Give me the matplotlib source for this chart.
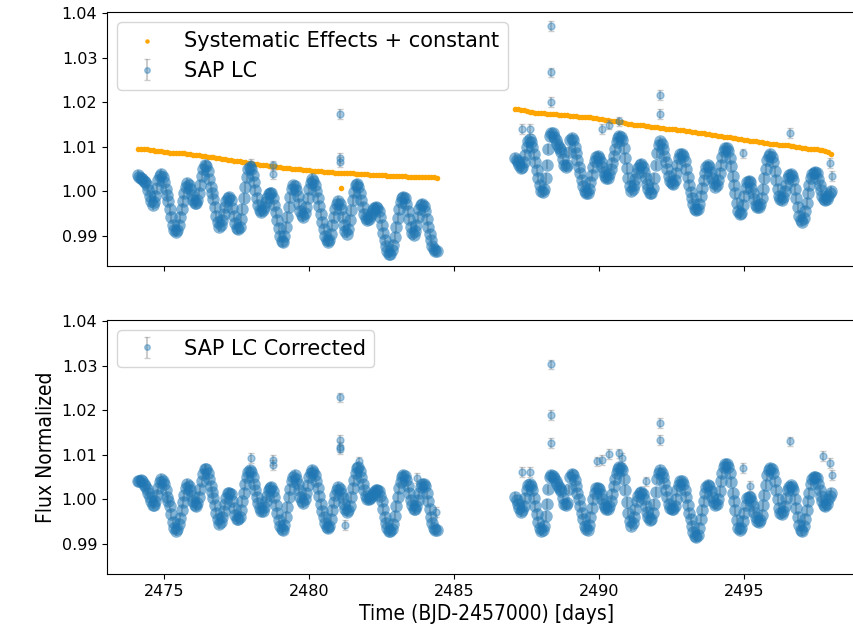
import numpy as np
import matplotlib.pyplot as plt

# time stamps (BJD-2457000) of the light curve, first and second orbit
tb1 = [2474.10, 2474.15, 2474.20, 2474.25, 2474.30, 2474.35, 2474.40, 2474.45, 2474.50,
       2474.55, 2474.60, 2474.65, 2474.70, 2474.75, 2474.80, 2474.85, 2474.90, 2474.95,
       2475.00, 2475.05, 2475.10, 2475.15, 2475.20, 2475.25, 2475.30, 2475.35, 2475.40, 2475.45,
       2475.50, 2475.55, 2475.60, 2475.65, 2475.70, 2475.75, 2475.80, 2475.85, 2475.90, 2475.95,
       2476.00, 2476.05, 2476.10, 2476.15, 2476.20, 2476.25, 2476.30, 2476.35, 2476.40, 2476.45,
       2476.50, 2476.55, 2476.60, 2476.65, 2476.70, 2476.75, 2476.80, 2476.85, 2476.90, 2476.95,
       2477.00, 2477.05, 2477.10, 2477.15, 2477.20, 2477.25, 2477.30, 2477.35, 2477.40, 2477.45,
       2477.50, 2477.55, 2477.60, 2477.65, 2477.70, 2477.75, 2477.80, 2477.85, 2477.90, 2477.95,
       2478.00, 2478.05, 2478.10, 2478.15, 2478.20, 2478.25, 2478.30, 2478.35, 2478.40, 2478.45,
       2478.50, 2478.55, 2478.60, 2478.65, 2478.70, 2478.75, 2478.80, 2478.85, 2478.90, 2478.95,
       2479.00, 2479.05, 2479.10, 2479.15, 2479.20, 2479.25, 2479.30, 2479.35, 2479.40, 2479.45,
       2479.50, 2479.55, 2479.60, 2479.65, 2479.70, 2479.75, 2479.80, 2479.85, 2479.90, 2479.95,
       2480.00, 2480.05, 2480.10, 2480.15, 2480.20, 2480.25, 2480.30, 2480.35, 2480.40, 2480.45,
       2480.50, 2480.55, 2480.60, 2480.65, 2480.70, 2480.75, 2480.80, 2480.85, 2480.90, 2480.95,
       2481.00, 2481.05, 2481.10, 2481.15, 2481.20, 2481.25, 2481.30, 2481.35, 2481.40, 2481.45,
       2481.50, 2481.55, 2481.60, 2481.65, 2481.70, 2481.75, 2481.80, 2481.85, 2481.90, 2481.95,
       2482.00, 2482.05, 2482.10, 2482.15, 2482.20, 2482.25, 2482.30, 2482.35, 2482.40, 2482.45,
       2482.50, 2482.55, 2482.60, 2482.65, 2482.70, 2482.75, 2482.80, 2482.85, 2482.90, 2482.95,
       2483.00, 2483.05, 2483.10, 2483.15, 2483.20, 2483.25, 2483.30, 2483.35, 2483.40, 2483.45,
       2483.50, 2483.55, 2483.60, 2483.65, 2483.70, 2483.75, 2483.80, 2483.85, 2483.90, 2483.95,
       2484.00, 2484.05, 2484.10, 2484.15, 2484.20, 2484.25, 2484.30, 2484.35, 2484.40]
tb2 = [2487.10, 2487.15, 2487.20, 2487.25, 2487.30, 2487.35, 2487.40, 2487.45, 2487.50,
       2487.55, 2487.60, 2487.65, 2487.70, 2487.75, 2487.80, 2487.85, 2487.90, 2487.95,
       2488.00, 2488.05, 2488.10, 2488.15, 2488.20, 2488.25, 2488.30, 2488.35, 2488.40, 2488.45,
       2488.50, 2488.55, 2488.60, 2488.65, 2488.70, 2488.75, 2488.80, 2488.85, 2488.90, 2488.95,
       2489.00, 2489.05, 2489.10, 2489.15, 2489.20, 2489.25, 2489.30, 2489.35, 2489.40, 2489.45,
       2489.50, 2489.55, 2489.60, 2489.65, 2489.70, 2489.75, 2489.80, 2489.85, 2489.90, 2489.95,
       2490.00, 2490.05, 2490.10, 2490.15, 2490.20, 2490.25, 2490.30, 2490.35, 2490.40, 2490.45,
       2490.50, 2490.55, 2490.60, 2490.65, 2490.70, 2490.75, 2490.80, 2490.85, 2490.90, 2490.95,
       2491.00, 2491.05, 2491.10, 2491.15, 2491.20, 2491.25, 2491.30, 2491.35, 2491.40, 2491.45,
       2491.50, 2491.55, 2491.60, 2491.65, 2491.70, 2491.75, 2491.80, 2491.85, 2491.90, 2491.95,
       2492.00, 2492.05, 2492.10, 2492.15, 2492.20, 2492.25, 2492.30, 2492.35, 2492.40, 2492.45,
       2492.50, 2492.55, 2492.60, 2492.65, 2492.70, 2492.75, 2492.80, 2492.85, 2492.90, 2492.95,
       2493.00, 2493.05, 2493.10, 2493.15, 2493.20, 2493.25, 2493.30, 2493.35, 2493.40, 2493.45,
       2493.50, 2493.55, 2493.60, 2493.65, 2493.70, 2493.75, 2493.80, 2493.85, 2493.90, 2493.95,
       2494.00, 2494.05, 2494.10, 2494.15, 2494.20, 2494.25, 2494.30, 2494.35, 2494.40, 2494.45,
       2494.50, 2494.55, 2494.60, 2494.65, 2494.70, 2494.75, 2494.80, 2494.85, 2494.90, 2494.95,
       2495.00, 2495.05, 2495.10, 2495.15, 2495.20, 2495.25, 2495.30, 2495.35, 2495.40, 2495.45,
       2495.50, 2495.55, 2495.60, 2495.65, 2495.70, 2495.75, 2495.80, 2495.85, 2495.90, 2495.95,
       2496.00, 2496.05, 2496.10, 2496.15, 2496.20, 2496.25, 2496.30, 2496.35, 2496.40, 2496.45,
       2496.50, 2496.55, 2496.60, 2496.65, 2496.70, 2496.75, 2496.80, 2496.85, 2496.90, 2496.95,
       2497.00, 2497.05, 2497.10, 2497.15, 2497.20, 2497.25, 2497.30, 2497.35, 2497.40, 2497.45,
       2497.50, 2497.55, 2497.60, 2497.65, 2497.70, 2497.75, 2497.80, 2497.85, 2497.90, 2497.95,
       2498.00]

# SAP flux (top panel)
sap1 = [1.0036, 1.0033, 1.0030, 1.0027, 1.0024, 1.0020, 1.0014, 1.0003, 0.9990,
        0.9977, 0.9970, 0.9976, 0.9990, 1.0008, 1.0025, 1.0035, 1.0038, 1.0031,
        1.0020, 1.0006, 0.9992, 0.9977, 0.9960, 0.9942, 0.9925, 0.9913, 0.9908, 0.9913,
        0.9925, 0.9942, 0.9960, 0.9978, 0.9995, 1.0010, 1.0018, 1.0014, 1.0005, 0.9992,
        0.9980, 0.9974, 0.9973, 0.9981, 0.9995, 1.0015, 1.0035, 1.0051, 1.0060, 1.0056,
        1.0045, 1.0028, 1.0010, 0.9996, 0.9982, 0.9964, 0.9945, 0.9930, 0.9920, 0.9924,
        0.9935, 0.9950, 0.9965, 0.9977, 0.9985, 0.9986, 0.9980, 0.9963, 0.9945, 0.9929,
        0.9918, 0.9916, 0.9920, 0.9937, 0.9960, 0.9985, 1.0010, 1.0032, 1.0050, 1.0055,
        1.0050, 1.0036, 1.0020, 1.0002, 0.9985, 0.9970, 0.9958, 0.9954, 0.9957, 0.9965,
        0.9975, 0.9985, 0.9993, 0.9997, 0.9996, 0.9985, 0.9970, 0.9953, 0.9935, 0.9917,
        0.9900, 0.9889, 0.9886, 0.9900, 0.9920, 0.9942, 0.9965, 0.9986, 1.0005, 1.0013,
        1.0012, 1.0003, 0.9990, 0.9972, 0.9955, 0.9946, 0.9943, 0.9951, 0.9965, 0.9985,
        1.0005, 1.0019, 1.0027, 1.0024, 1.0015, 1.0001, 0.9985, 0.9968, 0.9950, 0.9932,
        0.9915, 0.9900, 0.9890, 0.9886, 0.9890, 0.9905, 0.9925, 0.9943, 0.9960, 0.9972,
        0.9978, 0.9972, 0.9960, 0.9942, 0.9925, 0.9911, 0.9905, 0.9915, 0.9935, 0.9957,
        0.9980, 0.9999, 1.0013, 1.0016, 1.0010, 0.9996, 0.9980, 0.9965, 0.9950, 0.9940,
        0.9935, 0.9938, 0.9945, 0.9952, 0.9958, 0.9962, 0.9964, 0.9962, 0.9955, 0.9942,
        0.9925, 0.9907, 0.9890, 0.9876, 0.9865, 0.9860, 0.9860, 0.9867, 0.9880, 0.9898,
        0.9920, 0.9940, 0.9960, 0.9975, 0.9985, 0.9988, 0.9985, 0.9972, 0.9955, 0.9937,
        0.9920, 0.9907, 0.9902, 0.9910, 0.9925, 0.9943, 0.9960, 0.9969, 0.9972, 0.9966,
        0.9955, 0.9938, 0.9920, 0.9905, 0.9890, 0.9878, 0.9870, 0.9866, 0.9865]
sap2 = [1.0075, 1.0070, 1.0065, 1.0058, 1.0052, 1.0055, 1.0065, 1.0082, 1.0100,
        1.0112, 1.0117, 1.0111, 1.0100, 1.0083, 1.0065, 1.0047, 1.0030, 1.0013,
        1.0000, 0.9998, 1.0005, 1.0030, 1.0060, 1.0095, 1.0125, 1.0131, 1.0130, 1.0123,
        1.0115, 1.0107, 1.0100, 1.0095, 1.0088, 1.0073, 1.0060, 1.0055, 1.0060, 1.0088,
        1.0115, 1.0120, 1.0115, 1.0100, 1.0085, 1.0070, 1.0055, 1.0040, 1.0025, 1.0011,
        1.0000, 0.9995, 0.9995, 1.0005, 1.0020, 1.0037, 1.0055, 1.0069, 1.0078, 1.0079,
        1.0075, 1.0065, 1.0055, 1.0044, 1.0035, 1.0030, 1.0030, 1.0038, 1.0050, 1.0064,
        1.0080, 1.0096, 1.0110, 1.0120, 1.0124, 1.0122, 1.0115, 1.0097, 1.0075, 1.0052,
        1.0030, 1.0012, 1.0000, 1.0004, 1.0015, 1.0027, 1.0040, 1.0052, 1.0060, 1.0061,
        1.0055, 1.0043, 1.0030, 1.0017, 1.0005, 0.9996, 0.9995, 1.0008, 1.0030, 1.0058,
        1.0085, 1.0104, 1.0112, 1.0106, 1.0095, 1.0080, 1.0065, 1.0050, 1.0035, 1.0024,
        1.0018, 1.0017, 1.0025, 1.0041, 1.0060, 1.0075, 1.0083, 1.0084, 1.0080, 1.0067,
        1.0050, 1.0032, 1.0015, 0.9999, 0.9985, 0.9971, 0.9960, 0.9957, 0.9960, 0.9972,
        0.9990, 1.0007, 1.0025, 1.0042, 1.0055, 1.0058, 1.0055, 1.0043, 1.0030, 1.0018,
        1.0010, 1.0014, 1.0025, 1.0042, 1.0060, 1.0077, 1.0090, 1.0097, 1.0098, 1.0090,
        1.0075, 1.0056, 1.0035, 1.0015, 0.9995, 0.9974, 0.9955, 0.9949, 0.9952, 0.9970,
        0.9990, 1.0007, 1.0020, 1.0023, 1.0020, 1.0008, 0.9995, 0.9982, 0.9970, 0.9965,
        0.9965, 0.9972, 0.9985, 1.0006, 1.0030, 1.0051, 1.0070, 1.0080, 1.0083, 1.0077,
        1.0065, 1.0046, 1.0025, 1.0006, 0.9990, 0.9982, 0.9980, 0.9987, 1.0000, 1.0015,
        1.0030, 1.0036, 1.0038, 1.0034, 1.0025, 1.0006, 0.9985, 0.9964, 0.9945, 0.9935,
        0.9932, 0.9941, 0.9955, 0.9974, 0.9995, 1.0013, 1.0030, 1.0039, 1.0042, 1.0043,
        1.0040, 1.0028, 1.0015, 1.0002, 0.9990, 0.9983, 0.9980, 0.9983, 0.9990, 0.9995,
        1.0000]
# isolated SAP points away from the band
t_out = [2481.07, 2481.07, 2481.07, 2477.98, 2478.76, 2478.76, 2488.33, 2488.33, 2488.33,
         2492.08, 2492.08, 2496.58, 2487.34, 2487.63, 2490.09, 2490.35, 2490.67, 2494.97,
         2497.97, 2498.03]
sap_out = [1.0174, 1.0075, 1.0065, 1.0061, 1.0058, 1.0039, 1.0372, 1.0267, 1.0200,
           1.0217, 1.0174, 1.0131, 1.0140, 1.0140, 1.0140, 1.0150, 1.0157, 1.0085,
           1.0064, 1.0035]

# corrected flux (bottom panel)
cor1 = [1.0040, 1.0042, 1.0043, 1.0040, 1.0035, 1.0029, 1.0022, 1.0014, 1.0005,
        0.9995, 0.9988, 0.9988, 0.9995, 1.0009, 1.0025, 1.0038, 1.0045, 1.0042,
        1.0035, 1.0020, 1.0005, 0.9996, 0.9985, 0.9967, 0.9950, 0.9936, 0.9928, 0.9934,
        0.9945, 0.9959, 0.9975, 0.9993, 1.0010, 1.0025, 1.0035, 1.0030, 1.0020, 1.0007,
        0.9995, 0.9988, 0.9985, 0.9992, 1.0005, 1.0022, 1.0040, 1.0057, 1.0068, 1.0067,
        1.0060, 1.0046, 1.0030, 1.0017, 1.0003, 0.9986, 0.9970, 0.9955, 0.9945, 0.9950,
        0.9960, 0.9974, 0.9990, 1.0003, 1.0013, 1.0015, 1.0012, 0.9997, 0.9980, 0.9965,
        0.9956, 0.9955, 0.9960, 0.9975, 0.9995, 1.0015, 1.0035, 1.0050, 1.0062, 1.0065,
        1.0062, 1.0050, 1.0035, 1.0020, 1.0005, 0.9991, 0.9980, 0.9974, 0.9973, 0.9982,
        0.9995, 1.0008, 1.0020, 1.0026, 1.0027, 1.0018, 1.0005, 0.9988, 0.9970, 0.9954,
        0.9940, 0.9933, 0.9932, 0.9943, 0.9960, 0.9982, 1.0005, 1.0024, 1.0040, 1.0050,
        1.0054, 1.0046, 1.0035, 1.0020, 1.0005, 0.9995, 0.9992, 1.0000, 1.0015, 1.0033,
        1.0050, 1.0060, 1.0065, 1.0062, 1.0055, 1.0041, 1.0025, 1.0008, 0.9990, 0.9974,
        0.9960, 0.9947, 0.9937, 0.9935, 0.9940, 0.9955, 0.9975, 0.9993, 1.0010, 1.0021,
        1.0027, 1.0023, 1.0015, 1.0002, 0.9990, 0.9979, 0.9972, 0.9975, 0.9985, 1.0004,
        1.0025, 1.0044, 1.0060, 1.0070, 1.0072, 1.0064, 1.0050, 1.0035, 1.0020, 1.0008,
        1.0000, 1.0000, 1.0003, 1.0007, 1.0012, 1.0017, 1.0020, 1.0020, 1.0018, 1.0008,
        0.9995, 0.9978, 0.9960, 0.9946, 0.9935, 0.9929, 0.9928, 0.9934, 0.9945, 0.9963,
        0.9985, 1.0005, 1.0025, 1.0039, 1.0050, 1.0054, 1.0053, 1.0043, 1.0030, 1.0014,
        0.9998, 0.9986, 0.9978, 0.9979, 0.9985, 0.9999, 1.0015, 1.0027, 1.0035, 1.0035,
        1.0030, 1.0014, 0.9995, 0.9977, 0.9960, 0.9946, 0.9935, 0.9931, 0.9930]
cor2 = [1.0005, 0.9998, 0.9990, 0.9980, 0.9972, 0.9975, 0.9985, 1.0002, 1.0020,
        1.0031, 1.0035, 1.0029, 1.0020, 1.0003, 0.9985, 0.9967, 0.9950, 0.9936,
        0.9928, 0.9930, 0.9940, 0.9962, 0.9990, 1.0022, 1.0050, 1.0054, 1.0053, 1.0047,
        1.0040, 1.0034, 1.0028, 1.0024, 1.0018, 1.0003, 0.9990, 0.9986, 0.9992, 1.0022,
        1.0050, 1.0057, 1.0055, 1.0043, 1.0030, 1.0015, 1.0000, 0.9985, 0.9970, 0.9955,
        0.9940, 0.9933, 0.9932, 0.9943, 0.9960, 0.9980, 1.0000, 1.0015, 1.0026, 1.0026,
        1.0022, 1.0011, 1.0000, 0.9990, 0.9982, 0.9978, 0.9977, 0.9984, 0.9995, 1.0012,
        1.0030, 1.0046, 1.0060, 1.0068, 1.0072, 1.0071, 1.0065, 1.0045, 1.0020, 0.9994,
        0.9970, 0.9952, 0.9940, 0.9947, 0.9960, 0.9977, 0.9995, 1.0007, 1.0015, 1.0016,
        1.0012, 1.0000, 0.9985, 0.9972, 0.9960, 0.9954, 0.9955, 0.9970, 0.9990, 1.0017,
        1.0045, 1.0059, 1.0065, 1.0060, 1.0050, 1.0036, 1.0020, 1.0005, 0.9990, 0.9981,
        0.9977, 0.9978, 0.9985, 1.0001, 1.0020, 1.0033, 1.0040, 1.0040, 1.0035, 1.0021,
        1.0005, 0.9987, 0.9970, 0.9955, 0.9940, 0.9927, 0.9918, 0.9916, 0.9920, 0.9935,
        0.9955, 0.9975, 0.9995, 1.0013, 1.0028, 1.0032, 1.0030, 1.0018, 1.0005, 0.9993,
        0.9986, 0.9990, 1.0000, 1.0019, 1.0040, 1.0058, 1.0072, 1.0079, 1.0080, 1.0072,
        1.0060, 1.0038, 1.0015, 0.9995, 0.9975, 0.9954, 0.9935, 0.9931, 0.9935, 0.9952,
        0.9970, 0.9988, 1.0003, 1.0006, 1.0004, 0.9995, 0.9985, 0.9972, 0.9960, 0.9952,
        0.9948, 0.9954, 0.9965, 0.9986, 1.0010, 1.0033, 1.0055, 1.0066, 1.0070, 1.0068,
        1.0060, 1.0040, 1.0020, 1.0000, 0.9980, 0.9970, 0.9966, 0.9973, 0.9985, 1.0003,
        1.0020, 1.0028, 1.0031, 1.0027, 1.0020, 1.0000, 0.9980, 0.9960, 0.9942, 0.9932,
        0.9928, 0.9939, 0.9955, 0.9975, 0.9995, 1.0015, 1.0035, 1.0045, 1.0050, 1.0051,
        1.0048, 1.0035, 1.0020, 1.0007, 0.9995, 0.9988, 0.9985, 0.9990, 1.0000, 1.0008,
        1.0015]
tc_out = [2481.07, 2481.07, 2481.07, 2481.07, 2481.24, 2477.98, 2478.76, 2478.76, 2481.71,
          2483.73, 2484.36, 2488.33, 2488.33, 2488.33, 2492.08, 2492.08, 2496.58, 2487.34,
          2487.63, 2489.94, 2490.09, 2490.35, 2490.67, 2490.79, 2491.62, 2494.97, 2495.20,
          2497.71, 2497.97, 2498.03]
cor_out = [1.0229, 1.0133, 1.0118, 1.0112, 0.9942, 1.0092, 1.0088, 1.0077, 1.0085,
           1.0047, 0.9972, 1.0303, 1.0190, 1.0127, 1.0171, 1.0133, 1.0130, 1.0062,
           1.0062, 1.0085, 1.0088, 1.0102, 1.0103, 1.0092, 1.0040, 1.0070, 1.0030,
           1.0097, 1.0082, 1.0055]
flux_err = 0.0011

# systematic effects + constant (orange), sampled every 0.1 d
ts1 = [2474.1, 2474.2, 2474.3, 2474.4, 2474.5, 2474.6, 2474.7, 2474.8, 2474.9,
       2475.0, 2475.1, 2475.2, 2475.3, 2475.4, 2475.5, 2475.6, 2475.7, 2475.8, 2475.9,
       2476.0, 2476.1, 2476.2, 2476.3, 2476.4, 2476.5, 2476.6, 2476.7, 2476.8, 2476.9,
       2477.0, 2477.1, 2477.2, 2477.3, 2477.4, 2477.5, 2477.6, 2477.7, 2477.8, 2477.9,
       2478.0, 2478.1, 2478.2, 2478.3, 2478.4, 2478.5, 2478.6, 2478.7, 2478.8, 2478.9,
       2479.0, 2479.1, 2479.2, 2479.3, 2479.4, 2479.5, 2479.6, 2479.7, 2479.8, 2479.9,
       2480.0, 2480.1, 2480.2, 2480.3, 2480.4, 2480.5, 2480.6, 2480.7, 2480.8, 2480.9,
       2481.0, 2481.1, 2481.2, 2481.3, 2481.4, 2481.5, 2481.6, 2481.7, 2481.8, 2481.9,
       2482.0, 2482.1, 2482.2, 2482.3, 2482.4, 2482.5, 2482.6, 2482.7, 2482.8, 2482.9,
       2483.0, 2483.1, 2483.2, 2483.3, 2483.4, 2483.5, 2483.6, 2483.7, 2483.8, 2483.9,
       2484.0, 2484.1, 2484.2, 2484.3, 2484.4]
ts2 = [2487.1, 2487.2, 2487.3, 2487.4, 2487.5, 2487.6, 2487.7, 2487.8, 2487.9,
       2488.0, 2488.1, 2488.2, 2488.3, 2488.4, 2488.5, 2488.6, 2488.7, 2488.8, 2488.9,
       2489.0, 2489.1, 2489.2, 2489.3, 2489.4, 2489.5, 2489.6, 2489.7, 2489.8, 2489.9,
       2490.0, 2490.1, 2490.2, 2490.3, 2490.4, 2490.5, 2490.6, 2490.7, 2490.8, 2490.9,
       2491.0, 2491.1, 2491.2, 2491.3, 2491.4, 2491.5, 2491.6, 2491.7, 2491.8, 2491.9,
       2492.0, 2492.1, 2492.2, 2492.3, 2492.4, 2492.5, 2492.6, 2492.7, 2492.8, 2492.9,
       2493.0, 2493.1, 2493.2, 2493.3, 2493.4, 2493.5, 2493.6, 2493.7, 2493.8, 2493.9,
       2494.0, 2494.1, 2494.2, 2494.3, 2494.4, 2494.5, 2494.6, 2494.7, 2494.8, 2494.9,
       2495.0, 2495.1, 2495.2, 2495.3, 2495.4, 2495.5, 2495.6, 2495.7, 2495.8, 2495.9,
       2496.0, 2496.1, 2496.2, 2496.3, 2496.4, 2496.5, 2496.6, 2496.7, 2496.8, 2496.9,
       2497.0, 2497.1, 2497.2, 2497.3, 2497.4, 2497.5, 2497.6, 2497.7, 2497.8, 2497.9,
       2498.0]
sys1 = [1.0096, 1.0095, 1.0095, 1.0094, 1.0093, 1.0092, 1.0091, 1.0091, 1.0090,
        1.0089, 1.0088, 1.0087, 1.0087, 1.0086, 1.0086, 1.0085, 1.0085, 1.0084, 1.0083,
        1.0082, 1.0081, 1.0081, 1.0080, 1.0079, 1.0078, 1.0077, 1.0076, 1.0075, 1.0074,
        1.0073, 1.0072, 1.0071, 1.0070, 1.0069, 1.0068, 1.0067, 1.0066, 1.0065, 1.0064,
        1.0063, 1.0062, 1.0061, 1.0060, 1.0059, 1.0058, 1.0057, 1.0057, 1.0056, 1.0055,
        1.0054, 1.0053, 1.0053, 1.0052, 1.0051, 1.0050, 1.0050, 1.0049, 1.0048, 1.0048,
        1.0047, 1.0046, 1.0046, 1.0045, 1.0045, 1.0044, 1.0044, 1.0043, 1.0043, 1.0042,
        1.0042, 1.0041, 1.0041, 1.0040, 1.0040, 1.0040, 1.0039, 1.0039, 1.0038, 1.0038,
        1.0038, 1.0037, 1.0037, 1.0037, 1.0036, 1.0036, 1.0036, 1.0035, 1.0035, 1.0035,
        1.0034, 1.0034, 1.0034, 1.0034, 1.0033, 1.0033, 1.0033, 1.0032, 1.0032, 1.0032,
        1.0032, 1.0031, 1.0031, 1.0031, 1.0030]
sys2 = [1.0186, 1.0184, 1.0183, 1.0182, 1.0180, 1.0179, 1.0178, 1.0177, 1.0176,
        1.0176, 1.0175, 1.0174, 1.0174, 1.0173, 1.0173, 1.0172, 1.0172, 1.0171, 1.0171,
        1.0170, 1.0169, 1.0169, 1.0168, 1.0168, 1.0167, 1.0166, 1.0166, 1.0165, 1.0164,
        1.0163, 1.0162, 1.0161, 1.0160, 1.0159, 1.0158, 1.0157, 1.0156, 1.0155, 1.0153,
        1.0152, 1.0151, 1.0150, 1.0149, 1.0148, 1.0148, 1.0147, 1.0146, 1.0145, 1.0144,
        1.0144, 1.0143, 1.0142, 1.0141, 1.0141, 1.0140, 1.0139, 1.0138, 1.0137, 1.0137,
        1.0136, 1.0135, 1.0134, 1.0133, 1.0132, 1.0131, 1.0130, 1.0129, 1.0128, 1.0127,
        1.0126, 1.0125, 1.0124, 1.0123, 1.0122, 1.0121, 1.0120, 1.0119, 1.0118, 1.0117,
        1.0116, 1.0115, 1.0114, 1.0113, 1.0112, 1.0111, 1.0110, 1.0109, 1.0108, 1.0107,
        1.0107, 1.0106, 1.0105, 1.0104, 1.0104, 1.0103, 1.0102, 1.0101, 1.0100, 1.0099,
        1.0098, 1.0097, 1.0096, 1.0095, 1.0094, 1.0094, 1.0093, 1.0092, 1.0090, 1.0088,
        1.0084]
ts_out = [2481.1]
sys_out = [1.0007]

fig = plt.figure(figsize=(8.54, 6.42), dpi=100)
ax1 = fig.add_axes([107 / 854, 1 - 266 / 642, 759 / 854, 254 / 642])
ax2 = fig.add_axes([107 / 854, 1 - 574 / 642, 759 / 854, 254 / 642], sharex=ax1, sharey=ax1)

band = dict(fmt='o', color='C0', ecolor='gray', alpha=0.55, capsize=2, ms=9, mew=0)
single = dict(fmt='o', color='C0', ecolor='gray', alpha=0.4, capsize=2, ms=5)

ax1.scatter(ts1 + ts2 + ts_out, sys1 + sys2 + sys_out, s=16, color='orange', lw=0,
            label='Systematic Effects + constant')
ax1.errorbar(t_out, sap_out, yerr=flux_err, label='SAP LC', **single)
ax1.errorbar(tb1 + tb2, sap1 + sap2, yerr=flux_err, **band)
ax2.errorbar(tc_out, cor_out, yerr=flux_err, label='SAP LC Corrected', **single)
ax2.errorbar(tb1 + tb2, cor1 + cor2, yerr=flux_err, **band)

ax1.set_xlim(2473.03, 2499.2)
ax1.set_ylim(0.9832, 1.0403)
ax1.set_yticks([0.99, 1.00, 1.01, 1.02, 1.03, 1.04])
ax1.tick_params(labelbottom=False, labelsize=11.5)
ax2.tick_params(labelsize=11.5)
ax1.legend(loc='upper left', fontsize=15, markerscale=0.8)
ax2.legend(loc='upper left', fontsize=15, markerscale=0.8)
ax2.set_xlabel('Time (BJD-2457000) [days]', fontsize=15, fontstretch='condensed')
ax2.set_ylabel('Flux Normalized', fontsize=15, fontstretch='condensed')

fig.savefig('out.png', dpi=100)
